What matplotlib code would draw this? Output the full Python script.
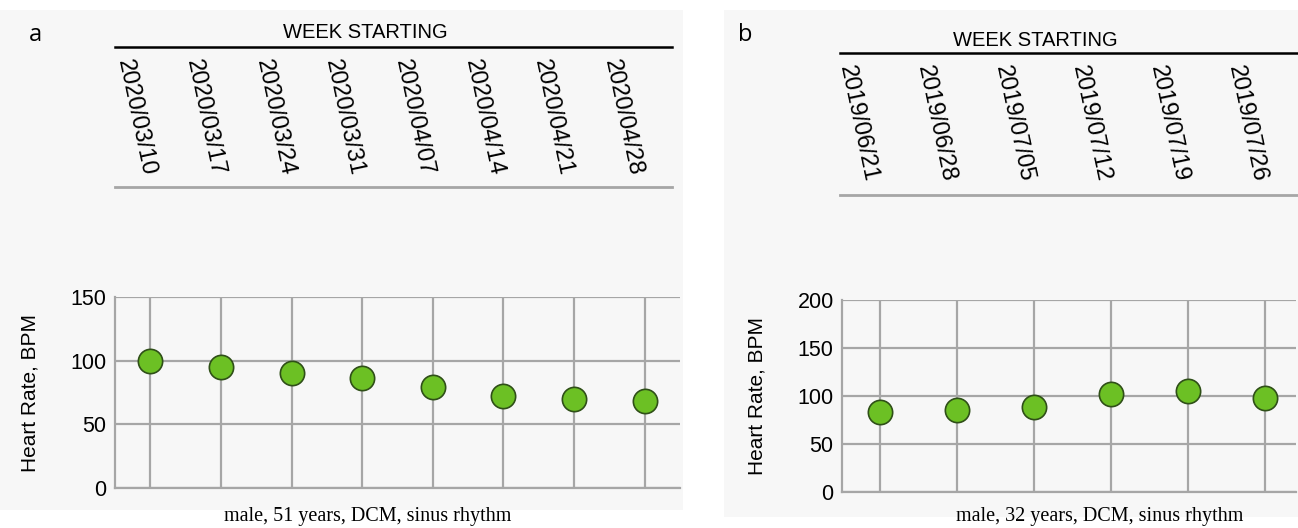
import matplotlib.pyplot as plt
from matplotlib.patches import Rectangle
import matplotlib.transforms as mtransforms

plt.rcParams['font.family'] = ['Liberation Sans', 'DejaVu Sans']

# panel a
weeks_a = ['2020/03/10', '2020/03/17', '2020/03/24', '2020/03/31',
           '2020/04/07', '2020/04/14', '2020/04/21', '2020/04/28']
hr_a = [100, 95, 90, 86, 79, 72, 70, 68]
ticks_a = [0, 50, 100, 150]
caption_a = 'male, 51 years, DCM, sinus rhythm'

# panel b
weeks_b = ['2019/06/21', '2019/06/28', '2019/07/05', '2019/07/12',
           '2019/07/19', '2019/07/26']
hr_b = [83, 85, 89, 102, 105, 98]
ticks_b = [0, 50, 100, 150, 200]
caption_b = 'male, 32 years, DCM, sinus rhythm'

W, H = 1298, 528
fig = plt.figure(figsize=(W / 100, H / 100), dpi=100)


def box(x0, y0, x1, y1):
    # pixel box (top-left origin) -> figure fraction rect
    return [x0 / W, 1 - y1 / H, (x1 - x0) / W, (y1 - y0) / H]


# light grey panel backgrounds
for x0, y0, x1, y1 in [(0, 10, 683, 510), (724, 10, 1298, 517)]:
    r = box(x0, y0, x1, y1)
    fig.patches.append(Rectangle((r[0], r[1]), r[2], r[3], transform=fig.transFigure,
                                 facecolor='#f7f7f7', edgecolor='none', zorder=-10))


def panel(main_box, head_box, weeks, hr, ticks, xmax, lab_dx, letter, letter_xy,
          title_xy, caption, caption_xy):
    n = len(weeks)
    ax = fig.add_axes(box(*main_box))
    ax.set_facecolor('none')
    ax.plot(range(n), hr, 'o', ms=17.5, mfc='#6cc024', mec='#2f4f18', mew=1.2,
            zorder=5, clip_on=False)
    ax.set_xlim(-0.5, xmax)
    ax.set_ylim(ticks[0], ticks[-1])
    ax.set_yticks(ticks)
    ax.set_xticks(range(n))
    ax.tick_params(axis='x', length=0, labelbottom=False)
    ax.tick_params(axis='y', length=0, labelsize=15.5, pad=6)
    ax.grid(True, color='#a6a6a6', lw=1.6)
    for s in ['top', 'right']:
        ax.spines[s].set_visible(False)
    for s in ['left', 'bottom']:
        ax.spines[s].set_color('#a6a6a6')
        ax.spines[s].set_linewidth(1.6)
    ax.set_ylabel('Heart Rate, BPM', fontsize=15, labelpad=22)

    hx = fig.add_axes(box(*head_box))
    hx.set_facecolor('none')
    hx.set_xlim(-0.5, xmax)
    hx.set_ylim(0, 1)
    hx.set_xticks([])
    hx.set_yticks([])
    for s in ['left', 'right']:
        hx.spines[s].set_visible(False)
    hx.spines['top'].set_color('black')
    hx.spines['top'].set_linewidth(1.8)
    hx.spines['bottom'].set_color('#a6a6a6')
    hx.spines['bottom'].set_linewidth(2)
    trans = mtransforms.blended_transform_factory(hx.transData, hx.transAxes)
    for i, w in enumerate(weeks):
        hx.text(i - lab_dx, 0.91, w, transform=trans, rotation=-78,
                rotation_mode='anchor', ha='left', va='center', fontsize=17)

    fig.text(letter_xy[0] / W, 1 - letter_xy[1] / H, letter, fontsize=17,
             ha='center', va='center', family=['Open Sans', 'DejaVu Sans'])
    fig.text(title_xy[0] / W, 1 - title_xy[1] / H, 'WEEK STARTING', fontsize=14.5,
             ha='center', va='center')
    fig.text(caption_xy[0] / W, 1 - caption_xy[1] / H, caption, fontsize=14.5,
             ha='center', va='center', family=['Liberation Serif', 'DejaVu Serif'])


panel((115, 297, 680, 488), (115, 47, 672, 187), weeks_a, hr_a, ticks_a, 7.5, 0.38,
      'a', (35, 35), (365, 33), caption_a, (368, 517))
panel((842, 300, 1296, 492), (840, 53, 1298, 195), weeks_b, hr_b, ticks_b, 5.4, 0.42,
      'b', (745, 35), (1035, 40), caption_b, (1100, 517))

fig.savefig('out.png', dpi=100)
